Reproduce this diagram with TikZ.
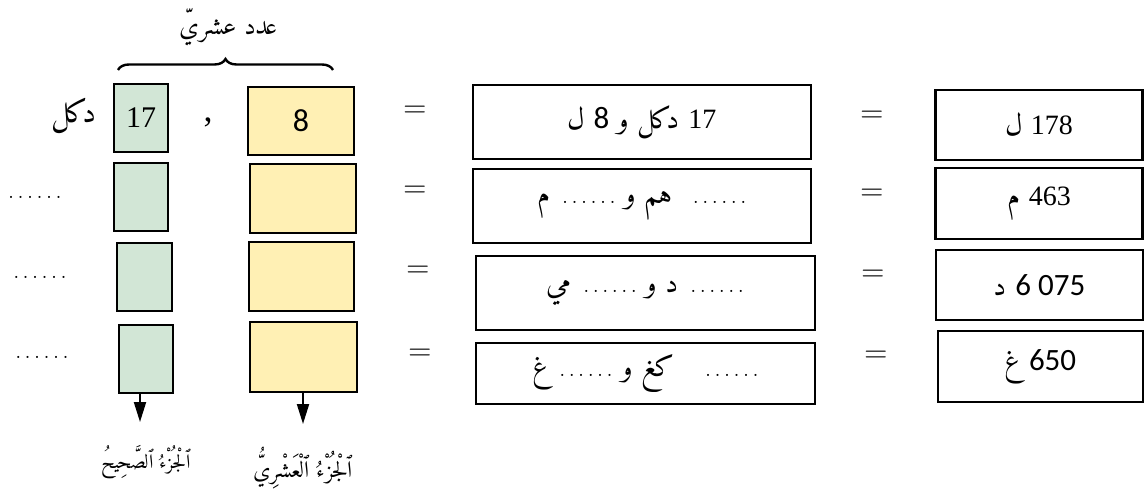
\documentclass[tikz,border=0pt]{standalone}
\usepackage{fontspec}
\usetikzlibrary{decorations.pathreplacing,arrows.meta}
\TeXXeTstate=1
\IfFontExistsTF{Amiri-Regular.ttf}
  {\newfontfamily\arabicfont[Script=Arabic]{Amiri-Regular.ttf}}
  {\newfontfamily\arabicfont[Script=Arabic]{DejaVu Sans}}
\newfontfamily\digitsans{Carlito}
\newfontfamily\digitserif{Liberation Serif}
\newcommand\sixdots{.\kern3pt.\kern3pt.\kern3pt.\kern3pt.\kern3pt.}
\newcommand\blankdots{{\rmfamily\fontsize{26}{30}\selectfont\sixdots}}
\tikzset{
  box/.style={draw, line width=2.4pt, inner sep=0pt},
  intbox/.style={box, fill=intgreen},
  decbox/.style={box, fill=decyellow},
  wide/.style={box, fill=white},
  artext/.style={font=\fontsize{29}{33}\selectfont\arabicfont, inner sep=0pt},
  eqsign/.style={font=\fontsize{32}{36}\selectfont, inner sep=0pt},
  down/.style={line width=2pt, -{Triangle[length=20pt,width=12pt]}},
}
\newcommand\serifnum[1]{{\digitserif\fontsize{28}{32}\selectfont\beginL #1\endL}}
\newcommand\sansnum[1]{{\digitsans\fontsize{31}{34}\selectfont\beginL #1\endL}}
\definecolor{intgreen}{RGB}{210,230,214}
\definecolor{decyellow}{RGB}{255,240,180}
\begin{document}
\begin{tikzpicture}[x=1pt,y=-1pt]
\useasboundingbox (0,0) rectangle (1145,494);

% heading and brace over the two parts
\node[artext, font=\fontsize{26}{30}\selectfont\arabicfont] (title) at (229,27) {\beginR عدد عشريّ\endR};
\coordinate (bl) at (118,70);
\coordinate (br) at (333,70);
\draw[line width=2.4pt, decorate, decoration={brace, amplitude=11pt}] (bl) -- (br);

% integer-part boxes (green)
\node[intbox, minimum width=54pt, minimum height=68pt, font=\fontsize{30}{34}\selectfont\digitserif] (g1) at (141,118) {17};
\node[intbox, minimum width=54pt, minimum height=68pt] (g2) at (141,197) {};
\node[intbox, minimum width=55pt, minimum height=68pt] (g3) at (144.5,277) {};
\node[intbox, minimum width=54pt, minimum height=68pt] (g4) at (146,359) {};

% decimal-part boxes (yellow)
\node[decbox, minimum width=106pt, minimum height=68pt, font=\fontsize{32}{36}\selectfont\digitsans] (y1) at (301,121) {8};
\node[decbox, minimum width=106pt, minimum height=69pt] (y2) at (303,198.5) {};
\node[decbox, minimum width=105pt, minimum height=69pt] (y3) at (301.5,276.5) {};
\node[decbox, minimum width=107pt, minimum height=70pt] (y4) at (303.5,357) {};

% unit label, comma and blanks on the left
\node[artext, font=\fontsize{31}{35}\selectfont\arabicfont] (unit) at (74,116) {\beginR دكل\endR};
\node[inner sep=0pt, font=\fontsize{36}{40}\selectfont\digitserif] (comma) at (208,122) {,};
\node[inner sep=0pt] (d2) at (35,197) {\blankdots};
\node[inner sep=0pt] (d3) at (40,277) {\blankdots};
\node[inner sep=0pt] (d4) at (42,357) {\blankdots};

% first column of equals signs
\node[eqsign] (e11) at (415,112) {=};
\node[eqsign] (e12) at (415,192) {=};
\node[eqsign] (e13) at (418,272) {=};
\node[eqsign] (e14) at (420,355) {=};

% middle boxes: mixed units
\node[wide, minimum width=338pt, minimum height=74pt, artext] (m1) at (642,122)
  {\beginR\serifnum{17} دكل و \sansnum{8} ل\endR};
\node[wide, minimum width=338pt, minimum height=74pt, artext] (m2) at (642,206)
  {\beginR\blankdots\kern20pt هم و \blankdots{} م\endR};
\node[wide, minimum width=339pt, minimum height=74pt, artext] (m3) at (645.5,293)
  {\beginR\blankdots{} د و \blankdots{} مي\endR};
\node[wide, minimum width=339pt, minimum height=61pt, artext] (m4) at (645.5,373.5)
  {\beginR\blankdots\kern30pt كغ و \blankdots{} غ\endR};

% second column of equals signs
\node[eqsign] (e21) at (872,117) {=};
\node[eqsign] (e22) at (872,195) {=};
\node[eqsign] (e23) at (873,276) {=};
\node[eqsign] (e24) at (876,357) {=};

% right boxes: single unit
\node[wide, minimum width=207pt, minimum height=70pt, artext] (r1) at (1039,125)
  {\beginR\serifnum{178} ل\endR};
\node[wide, minimum width=207pt, minimum height=71pt, artext] (r2) at (1039,203.5)
  {\beginR\serifnum{463} م\endR};
\node[wide, minimum width=207pt, minimum height=70pt, artext] (r3) at (1039.5,285)
  {\beginR\sansnum{6 075} د\endR};
\node[wide, minimum width=205pt, minimum height=71pt, artext] (r4) at (1040.5,366.5)
  {\beginR\sansnum{650} غ\endR};

% part names with arrows
\node[artext, font=\fontsize{20}{24}\selectfont\arabicfont] (intname) at (146,462) {\beginR ٱلْجُزْءُ ٱلصَّحِيحُ\endR};
\node[artext, font=\fontsize{23}{27}\selectfont\arabicfont] (decname) at (303,468) {\beginR ٱلْجُزْءُ ٱلْعَشْرِيُّ\endR};
\coordinate (ga) at (140,422);
\coordinate (ya) at (303,424);
\draw[down] (ga |- g4.south) -- (ga);
\draw[down] (ya |- y4.south) -- (ya);
\end{tikzpicture}
\end{document}
